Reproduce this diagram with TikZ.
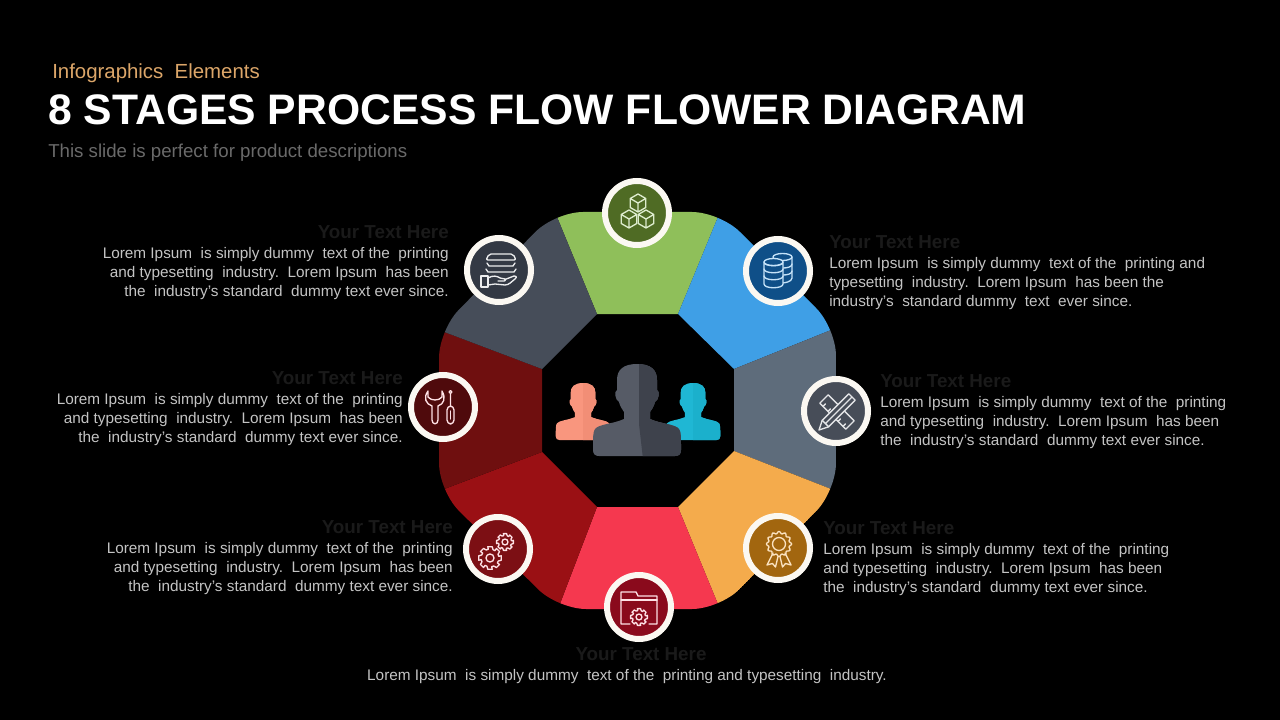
\documentclass[tikz,border=0pt]{standalone}
\usepackage{fontspec}
\setmainfont{Liberation Sans}
\usetikzlibrary{positioning}
\definecolor{mgreen}{HTML}{8FBF5A}
\definecolor{mblue}{HTML}{3F9FE6}
\definecolor{mslate}{HTML}{5E6C7B}
\definecolor{morange}{HTML}{F4AB4C}
\definecolor{mred}{HTML}{F5384F}
\definecolor{mcrimson}{HTML}{9A1014}
\definecolor{mmaroon}{HTML}{6F0F0F}
\definecolor{mcoal}{HTML}{464D59}
\definecolor{mring}{HTML}{FBF8F2}
\definecolor{mkicker}{HTML}{DCA669}
\definecolor{msub}{HTML}{6A6A6A}
\definecolor{mhead}{HTML}{1A1A1A}
\definecolor{mbody}{HTML}{C4C4C4}
\definecolor{mpeach}{HTML}{F9967E}
\definecolor{mpeachd}{HTML}{F28E76}
\definecolor{mcyan}{HTML}{1FB7D4}
\definecolor{mcyand}{HTML}{1BB0CC}
\definecolor{mman}{HTML}{565B66}
\definecolor{mmand}{HTML}{3E424C}
\definecolor{fbox}{HTML}{4F6B24}
\definecolor{fdata}{HTML}{0F4F88}
\definecolor{fruler}{HTML}{474D58}
\definecolor{fmedal}{HTML}{A2660F}
\definecolor{ffolder}{HTML}{8A0A1C}
\definecolor{fgears}{HTML}{7C0F14}
\definecolor{ftools}{HTML}{4F0A0C}
\definecolor{fhand}{HTML}{333944}
\tikzset{
  titletext/.style={anchor=west, inner sep=0pt, text=white, font=\fontsize{32}{36}\selectfont\bfseries},
  kickertext/.style={anchor=west, inner sep=0pt, text=mkicker, font=\fontsize{15.3}{17}\selectfont},
  subtext/.style={anchor=west, inner sep=0pt, text=msub, font=\fontsize{14}{16}\selectfont},
  headtext/.style={inner sep=0pt, text=mhead, font=\fontsize{14.1}{16}\selectfont\bfseries},
  bodyleft/.style={anchor=east, align=right, inner sep=0pt, text=mbody, font=\fontsize{11.5}{14.25}\selectfont},
  bodyright/.style={anchor=west, align=left, inner sep=0pt, text=mbody, font=\fontsize{11.5}{14.25}\selectfont},
  stagecirc/.style={circle, draw=mring, line width=4.5pt, minimum size=48pt, inner sep=0pt, outer sep=0pt},
  iconline/.style={line width=1pt, line join=round, line cap=round},
  cubeicon/.pic={
    \draw[iconline] (0,-9) -- (7.8,-4.5) -- (7.8,4.5) -- (0,9) -- (-7.8,4.5) -- (-7.8,-4.5) -- cycle
      (-7.8,-4.5) -- (0,0) -- (7.8,-4.5) (0,0) -- (0,9);
  },
  gearicon/.pic={
    \draw[iconline] (0,0) circle (3.5);
    \draw[iconline] (-11:10) \foreach \a in {0,45,...,315} {
      -- (\a-11:10) -- (\a+11:10) -- (\a+20:7.7) -- (\a+34:7.7)} -- cycle;
  },
}
\newcommand{\personpath}{(0,0) .. controls (-14,0) and (-20,6) .. (-20,16) -- (-20,26)
  .. controls (-23,27) and (-22,36) .. (-18,38) .. controls (-17,43) and (-14,46) .. (-13,48) -- (-13,55)
  .. controls (-24,60) and (-38,60) .. (-42,65) .. controls (-44,68) and (-44,72) .. (-44,86)
  .. controls (-44,90) and (-42,92) .. (-38,92) -- (38,92)
  .. controls (42,92) and (44,90) .. (44,86) .. controls (44,72) and (44,68) .. (42,65)
  .. controls (38,60) and (24,60) .. (13,55) -- (13,48)
  .. controls (14,46) and (17,43) .. (18,38) .. controls (22,36) and (23,27) .. (20,26) -- (20,16)
  .. controls (20,6) and (14,0) .. (0,0) -- cycle}
\newcommand{\bodytext}{Lorem Ipsum\ \ is simply dummy\ \ text of the\ \ printing\\and typesetting\ \ industry.\ \ Lorem Ipsum\ \ has been\\the\ \ industry's standard\ \ dummy text ever since.}
\begin{document}
\begin{tikzpicture}[x=0.75pt, y=-0.75pt]
  \fill[black] (0,0) rectangle (1280,720);
  \useasboundingbox (0,0) rectangle (1280,720);
  % Header
  \node[kickertext] (kicker) at (52,73) {Infographics\ \ Elements};
  \node[titletext] (title) at (48,110) {8 STAGES PROCESS FLOW FLOWER DIAGRAM};
  \node[subtext] (sub) at (48,153) {This slide is perfect for product descriptions};
  % Octagon corners
  \coordinate (o1) at (555,212);
  \coordinate (o2) at (720,212);
  \coordinate (o3) at (836,328);
  \coordinate (o4) at (836,491);
  \coordinate (o5) at (720,609);
  \coordinate (o6) at (558,609);
  \coordinate (o7) at (439,491);
  \coordinate (o8) at (439,330);
  \coordinate (i1) at (597,314);
  \coordinate (i2) at (678,314);
  \coordinate (i3) at (734,369);
  \coordinate (i4) at (734,451);
  \coordinate (i5) at (678,507);
  \coordinate (i6) at (597,507);
  \coordinate (i7) at (542,452);
  \coordinate (i8) at (542,369);
  % Petals
  \begin{scope}
    \clip[rounded corners=21pt] (o1) -- (o2) -- (o3) -- (o4) -- (o5) -- (o6) -- (o7) -- (o8) -- cycle;
    \foreach \a/\b/\col in {1/2/mgreen, 2/3/mblue, 3/4/mslate, 4/5/morange,
                            5/6/mred, 6/7/mcrimson, 7/8/mmaroon, 8/1/mcoal}
      \fill[\col] (i\a) -- (o\a) -- (o\b) -- (i\b) -- cycle;
  \end{scope}
  % People in the middle
  \begin{scope}[shift={(583,383)}, scale=0.62]
    \fill[mpeach] \personpath;
    \clip (0,-2) rectangle (50,95);
    \fill[mpeachd] \personpath;
  \end{scope}
  \begin{scope}[shift={(693,383)}, scale=0.62]
    \fill[mcyan] \personpath;
    \clip (0,-2) rectangle (50,95);
    \fill[mcyand] \personpath;
  \end{scope}
  \begin{scope}[shift={(637,364)}]
    \fill[mman] \personpath;
    \clip (2,-2) -- (50,-2) -- (50,95) -- (6,95) -- (2,60) -- cycle;
    \fill[mmand] \personpath;
  \end{scope}
  % Stage circles
  \node[stagecirc, fill=fbox] (cbox) at (637,213) {};
  \node[stagecirc, fill=fdata] (cdata) at (778,271) {};
  \node[stagecirc, fill=fruler] (cruler) at (836,411) {};
  \node[stagecirc, fill=fmedal] (cmedal) at (778,548) {};
  \node[stagecirc, fill=ffolder] (cfolder) at (639,607) {};
  \node[stagecirc, fill=fgears] (cgears) at (498,549) {};
  \node[stagecirc, fill=ftools] (ctools) at (443,407) {};
  \node[stagecirc, fill=fhand] (chand) at (499,270) {};
  % Cubes
  \begin{scope}[shift={(cbox)}, color=mgreen!30!white]
    \pic at (1,-10) {cubeicon};
    \pic at (-8,6) {cubeicon};
    \pic at (9,6) {cubeicon};
  \end{scope}
  % Database
  \begin{scope}[shift={(cdata)}, color=mblue!30!white]
    \draw[iconline] (14,-14) -- (14,7) .. controls (14,11) and (6,12) .. (4,12);
    \draw[iconline] (14,-7) .. controls (14,-4) and (9,-3) .. (5,-3);
    \draw[iconline] (14,0) .. controls (14,3) and (9,4) .. (5,4);
    \draw[iconline] (4.5,-14) ellipse (9.5 and 3.5);
    \draw[iconline, fill=fdata] (-14,-9) -- (-14,13) .. controls (-14,18) and (5,18) .. (5,13) -- (5,-9) .. controls (5,-4) and (-14,-4) .. (-14,-9);
    \draw[iconline, fill=fdata] (-4.5,-9) ellipse (9.5 and 3.5);
    \draw[iconline] (-14,-2) .. controls (-14,3) and (5,3) .. (5,-2);
    \draw[iconline] (-14,5) .. controls (-14,10) and (5,10) .. (5,5);
  \end{scope}
  % Ruler and pencil
  \begin{scope}[shift={(cruler)}, color=white!85!mcoal]
    \draw[iconline] (-16.2,-7.8) -- (-7.8,-16.2) -- (18.2,9.8) -- (9.8,18.2) -- cycle;
    \foreach \p in {-13,-8,2,7} \draw[iconline] (\p,\p+8.4) -- (\p+2.5,\p+5.9);
    \draw[iconline, fill=fruler] (-17,19) -- (-7.4,15.8) -- (19.2,-10.8) -- (12.8,-17.2) -- (-13.8,9.4) -- cycle;
    \draw[iconline] (-10.6,12.6) -- (16,-14) (-13.8,9.4) -- (-7.4,15.8);
  \end{scope}
  % Medal
  \begin{scope}[shift={(cmedal)}, color=morange!35!white]
    \draw[iconline] (1,-4) circle (6.5);
    \draw[iconline, shift={(1,-4)}] plot[smooth cycle, domain=0:354, samples=60] (\x:{11.5+1.2*cos(12*\x)});
    \draw[iconline] (-5,5) -- (-11,17) -- (-5.5,15.5) -- (-2.5,19) -- (0,8.5);
    \draw[iconline] (7,5) -- (13,17) -- (7.5,15.5) -- (4.5,19) -- (2,8.5);
  \end{scope}
  % Folder with gear
  \begin{scope}[shift={(cfolder)}, color=mred!15!white]
    \draw[iconline] (-9,17) -- (-18,17) -- (-18,-15) -- (-3,-15) -- (-1,-11) -- (18,-11) -- (18,17) -- (10,17);
    \draw[iconline] (-18,-7) -- (18,-7);
    \pic[scale=0.85] at (0,10) {gearicon};
  \end{scope}
  % Gears
  \begin{scope}[shift={(cgears)}, color=mred!15!white]
    \pic[scale=1.15] at (-8,9) {gearicon};
    \pic[scale=0.85] at (7,-7) {gearicon};
  \end{scope}
  % Wrench and screwdriver
  \begin{scope}[shift={(ctools)}, color=mred!15!white]
    \draw[iconline] (-15,-16) .. controls (-20,-9) and (-17,-3) .. (-11,-1) -- (-11,13)
      .. controls (-11,18) and (-5,18) .. (-5,13) -- (-5,-1)
      .. controls (1,-3) and (3,-9) .. (-1,-16) -- (-1,-10)
      .. controls (-4,-6) and (-12,-6) .. (-15,-10) -- cycle;
    \draw[iconline] (7.5,-15) circle (1.5) (7.5,-13.5) -- (7.5,-1);
    \draw[iconline, rounded corners=3pt] (4,-1) rectangle (11,17);
    \draw[iconline] (7.5,4) -- (7.5,12);
  \end{scope}
  % Hand holding layers
  \begin{scope}[shift={(chand)}, color=white!90!mcoal]
    \draw[iconline, rounded corners=1.5pt] (-10,-16) -- (14,-16) -- (17,-10) -- (-13,-10) -- cycle;
    \draw[iconline] (-12,-7) -- (-10,-4) -- (14,-4) -- (16,-7);
    \draw[iconline] (-13,-1) -- (-11,2) -- (15,2) -- (17,-1);
    \draw[iconline] (-18,6) rectangle (-11,17);
    \draw[iconline] (-11,8) .. controls (-6,5) and (-2,6) .. (1,8) -- (6,9) .. controls (7,10) and (6,11) .. (5,11) -- (-1,11);
    \draw[iconline] (6,9.5) -- (15,6) .. controls (18,6) and (18,8) .. (16,9) .. controls (12,12) and (10,15) .. (6,15) -- (-4,14) -- (-11,15);
  \end{scope}
  % Left texts
  \node[headtext, anchor=east] (hhand) at (449,232) {Your Text Here};
  \node[bodyleft] (thand) at (449,274) {\bodytext};
  \node[headtext, anchor=east] (htools) at (403,378) {Your Text Here};
  \node[bodyleft] (ttools) at (403,420) {\bodytext};
  \node[headtext, anchor=east] (hgears) at (453,527) {Your Text Here};
  \node[bodyleft] (tgears) at (453,569) {\bodytext};
  % Right texts
  \node[headtext, anchor=west] (hdata) at (829,242) {Your Text Here};
  \node[bodyright] (tdata) at (829,284) {Lorem Ipsum\ \ is simply dummy\ \ text of the\ \ printing and\\typesetting\ \ industry.\ \ Lorem Ipsum\ \ has been the\\industry's\ \ standard dummy\ \ text\ \ ever since.};
  \node[headtext, anchor=west] (hruler) at (880,381) {Your Text Here};
  \node[bodyright] (truler) at (880,423) {\bodytext};
  \node[headtext, anchor=west] (hmedal) at (823,528) {Your Text Here};
  \node[bodyright] (tmedal) at (823,570) {\bodytext};
  % Bottom text
  \node[headtext] (hfolder) at (641,654) {Your Text Here};
  \node[inner sep=0pt, text=mbody, font=\fontsize{11.5}{14.25}\selectfont] (tfolder) at (627,677) {Lorem Ipsum\ \ is simply dummy\ \ text of the\ \ printing and typesetting\ \ industry.};
\end{tikzpicture}
\end{document}
